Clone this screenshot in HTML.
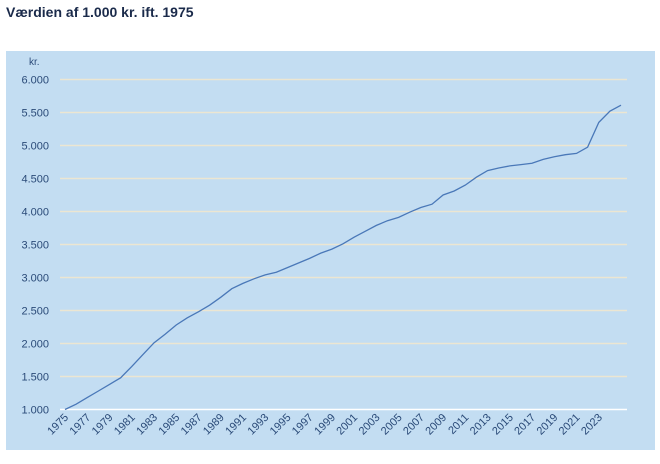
<!DOCTYPE html>
<html><head><meta charset="utf-8"><style>
body{margin:0;width:660px;height:459px;background:#fff;overflow:hidden;font-family:"Liberation Sans",sans-serif}
</style></head><body>
<svg width="660" height="459" xmlns="http://www.w3.org/2000/svg" font-family="Liberation Sans, sans-serif">
<text x="6" y="17" font-size="14" font-weight="bold" fill="#1a2a4a">Værdien af 1.000 kr. ift. 1975</text>
<rect x="6" y="51" width="649" height="399" fill="#c3ddf2"/>
<g stroke="#ece6d2" stroke-width="1.5">
<line x1="60" x2="627" y1="79.5" y2="79.5"/><line x1="60" x2="627" y1="112.5" y2="112.5"/>
<line x1="60" x2="627" y1="145.5" y2="145.5"/><line x1="60" x2="627" y1="178.5" y2="178.5"/>
<line x1="60" x2="627" y1="211.5" y2="211.5"/><line x1="60" x2="627" y1="244.5" y2="244.5"/>
<line x1="60" x2="627" y1="277.5" y2="277.5"/><line x1="60" x2="627" y1="310.5" y2="310.5"/>
<line x1="60" x2="627" y1="343.5" y2="343.5"/><line x1="60" x2="627" y1="376.5" y2="376.5"/>
</g>
<line x1="60" x2="627" y1="409.5" y2="409.5" stroke="#fff" stroke-width="1.5"/>
<g font-size="11" fill="#2a4a78" text-anchor="end">
<text x="29" y="65" text-anchor="start" font-size="10">kr.</text>
<text x="49" y="83.5">6.000</text><text x="49" y="116.5">5.500</text><text x="49" y="149.5">5.000</text>
<text x="49" y="182.5">4.500</text><text x="49" y="215.5">4.000</text><text x="49" y="248.5">3.500</text>
<text x="49" y="281.5">3.000</text><text x="49" y="314.5">2.500</text><text x="49" y="347.5">2.000</text>
<text x="49" y="380.5">1.500</text><text x="49" y="413.5">1.000</text>
</g>
<g font-size="11" fill="#2a4a78" text-anchor="end">
<text transform="translate(69,418) rotate(-45)">1975</text>
<text transform="translate(91.2,418) rotate(-45)">1977</text>
<text transform="translate(113.5,418) rotate(-45)">1979</text>
<text transform="translate(135.7,418) rotate(-45)">1981</text>
<text transform="translate(158,418) rotate(-45)">1983</text>
<text transform="translate(180.2,418) rotate(-45)">1985</text>
<text transform="translate(202.4,418) rotate(-45)">1987</text>
<text transform="translate(224.7,418) rotate(-45)">1989</text>
<text transform="translate(246.9,418) rotate(-45)">1991</text>
<text transform="translate(269.2,418) rotate(-45)">1993</text>
<text transform="translate(291.4,418) rotate(-45)">1995</text>
<text transform="translate(313.6,418) rotate(-45)">1997</text>
<text transform="translate(335.9,418) rotate(-45)">1999</text>
<text transform="translate(358.1,418) rotate(-45)">2001</text>
<text transform="translate(380.4,418) rotate(-45)">2003</text>
<text transform="translate(402.6,418) rotate(-45)">2005</text>
<text transform="translate(424.8,418) rotate(-45)">2007</text>
<text transform="translate(447.1,418) rotate(-45)">2009</text>
<text transform="translate(469.3,418) rotate(-45)">2011</text>
<text transform="translate(491.6,418) rotate(-45)">2013</text>
<text transform="translate(513.8,418) rotate(-45)">2015</text>
<text transform="translate(536,418) rotate(-45)">2017</text>
<text transform="translate(558.3,418) rotate(-45)">2019</text>
<text transform="translate(580.5,418) rotate(-45)">2021</text>
<text transform="translate(602.8,418) rotate(-45)">2023</text>
</g>
<polyline fill="none" stroke="#4a78b8" stroke-width="1.3" points="65,409.5 76.1,404.2 87.2,397.6 98.4,391 109.5,384.4 120.6,377.8 131.7,366.6 142.8,354.7 154,342.8 165.1,334.3 176.2,325 187.3,317.8 198.4,311.8 209.6,305.2 220.7,297.3 231.8,288.7 242.9,283.4 254,278.8 265.2,274.9 276.3,272.2 287.4,267.6 298.5,263 309.6,258.4 320.8,253.1 331.9,249.1 343,243.8 354.1,237.2 365.2,231.3 376.4,225.4 387.5,220.7 398.6,217.4 409.7,212.2 420.8,207.5 432,204.2 443.1,195 454.2,191 465.3,185.1 476.4,177.2 487.6,170.6 498.7,168 509.8,165.9 520.9,164.6 532,163.3 543.2,159.4 554.3,156.7 565.4,154.7 576.5,153.4 587.6,147.2 598.8,122.4 609.9,111.2 621,105.2"/>
</svg>
</body></html>
